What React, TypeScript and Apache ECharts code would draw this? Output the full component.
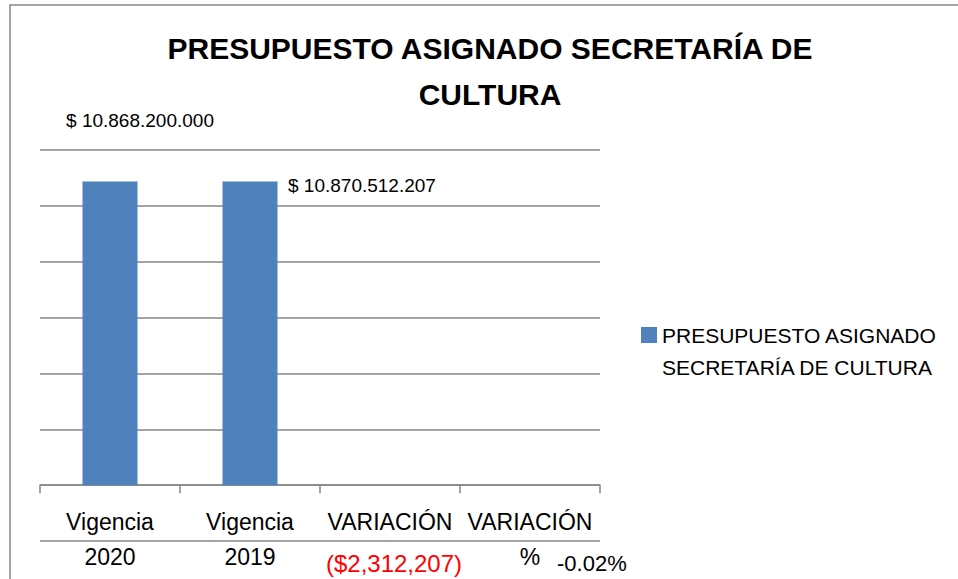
import React, { useEffect, useRef } from "react";
import * as echarts from "echarts";

const categories = ["Vigencia\n2020", "Vigencia\n2019", "VARIACIÓN", "VARIACIÓN\n%"];
const seriesName = "PRESUPUESTO ASIGNADO SECRETARÍA DE CULTURA";
const values = [10868200000, 10870512207, -2312207, -0.000213];
const titleText = "PRESUPUESTO ASIGNADO SECRETARÍA DE\nCULTURA";
const legendLines = ["PRESUPUESTO ASIGNADO", "SECRETARÍA DE CULTURA"];

const FONT = "'Liberation Sans', Arial, sans-serif";

function fmtDots(v: number) {
  return "$ " + Math.round(v).toString().replace(/\B(?=(\d{3})+(?!\d))/g, ".");
}
function fmtParen(v: number) {
  const s = Math.abs(Math.round(v)).toString().replace(/\B(?=(\d{3})+(?!\d))/g, ",");
  return v < 0 ? "($" + s + ")" : "$" + s;
}
function fmtPct(v: number) {
  return (v * 100).toFixed(2) + "%";
}

export default function App() {
  const ref = useRef<HTMLDivElement>(null);
  useEffect(() => {
    if (!ref.current) return;
    const chart = echarts.init(ref.current, null, { renderer: "svg" });
    const labelCfg = [
      { position: [57.5, -61.6], align: "center", fontSize: 19, color: "#000" },
      { position: [65.5, 4.4], align: "left", fontSize: 19, color: "#000" },
      { position: [31.5, 78], align: "center", fontSize: 24, color: "#FF0000" },
      { position: [54.5, 78], align: "left", fontSize: 22, color: "#000" },
    ];
    const option: any = {
      animation: false,
      backgroundColor: "#fff",
      title: {
        text: titleText,
        left: 490,
        top: 25,
        padding: 0,
        textAlign: "center",
        textStyle: {
          fontFamily: FONT,
          fontSize: 30,
          fontWeight: "bold",
          color: "#000",
          lineHeight: 46,
        },
      },
      legend: {
        left: 641,
        top: 323,
        padding: 0,
        itemWidth: 16,
        itemHeight: 16,
        icon: "rect",
        formatter: () => legendLines[0],
        textStyle: { fontFamily: FONT, fontSize: 21, color: "#000", lineHeight: 24 },
        data: [seriesName],
      },
      grid: { left: 40, right: 358, top: 150, bottom: 38, outerBoundsMode: "none", containLabel: false },
      xAxis: {
        type: "category",
        data: categories,
        axisLine: { onZero: true, lineStyle: { color: "#868686", width: 1.5 } },
        axisTick: { show: true, length: 8, lineStyle: { color: "#868686", width: 1.5 } },
        axisLabel: {
          interval: 0,
          fontFamily: FONT,
          fontSize: 23,
          lineHeight: 35,
          color: "#000",
          margin: -37,
        },
      },
      yAxis: {
        type: "value",
        min: -2000000000,
        max: 12000000000,
        interval: 2000000000,
        axisLabel: { show: false },
        axisLine: { show: false },
        axisTick: { show: false },
        splitLine: { show: true, lineStyle: { color: "#868686", width: 1.5 } },
      },
      graphic: [
        {
          type: "rect",
          silent: true,
          shape: { x: 10, y: 5, width: 2000, height: 2000 },
          style: { fill: "none", stroke: "#868686", lineWidth: 1.5 },
        },
        {
          type: "text",
          left: 662,
          top: 357,
          style: {
            text: legendLines[1],
            fontFamily: FONT,
            fontSize: 21,
            fill: "#000",
          },
        },
      ],
      series: [
        {
          name: seriesName,
          type: "bar",
          barWidth: 55,
          itemStyle: { color: "#4F81BD" },
          data: values.map((v, i) => ({
            value: v,
            label: {
              show: true,
              position: labelCfg[i].position,
              align: labelCfg[i].align,
              verticalAlign: "middle",
              fontFamily: FONT,
              fontSize: labelCfg[i].fontSize,
              color: labelCfg[i].color,
            },
          })),
          label: {
            show: true,
            formatter: (p: any) => {
              const i = p.dataIndex;
              if (i < 2) return fmtDots(values[i]);
              if (i === 2) return fmtParen(values[i]);
              return fmtPct(values[i]);
            },
          },
        },
      ],
    };
    chart.setOption(option);
    return () => chart.dispose();
  }, []);
  return (
    <div
      ref={ref}
      style={{ position: "fixed", left: 0, top: 0, width: 958, height: 579 }}
    />
  );
}
